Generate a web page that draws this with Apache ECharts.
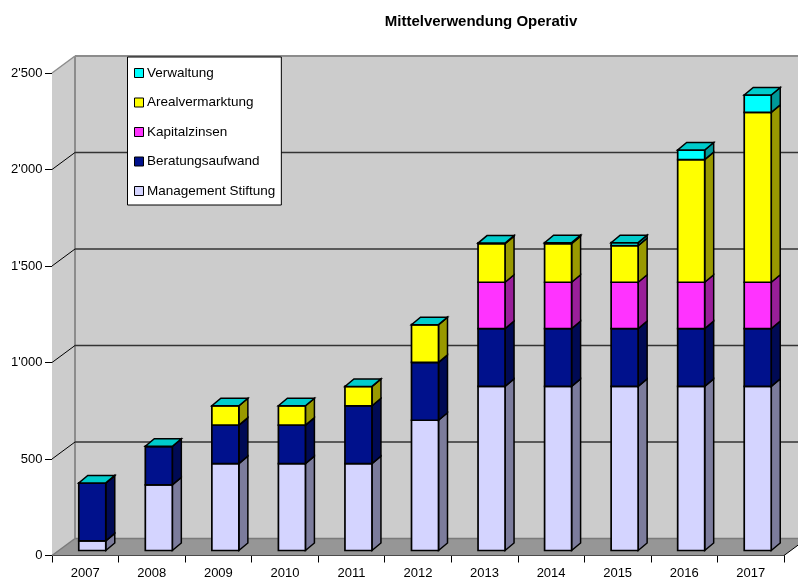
<!DOCTYPE html>
<html>
<head>
<meta charset="utf-8">
<style>html,body{margin:0;padding:0;background:#fff}#c{width:798px;height:581px}</style>
<script src="https://cdn.jsdelivr.net/npm/echarts@6/dist/echarts.min.js"></script>
</head>
<body>
<div id="c"></div>
<script>
const categories = ['2007','2008','2009','2010','2011','2012','2013','2014','2015','2016','2017'];
const management = [50,340,450,450,450,675,850,850,850,850,850];
const beratung   = [300,200,200,200,300,300,300,300,300,300,300];
const kapital    = [0,0,0,0,0,0,240,240,240,240,240];
const areal      = [0,0,100,100,100,195,200,200,190,635,880];
const verwaltung = [0,0,0,0,0,0,3,5,15,50,90];
const yTicks = [0,500,1000,1500,2000];
const yTickLabels = {0:'0',500:'500',1000:"1'000",1500:"1'500",2000:"2'000",2500:"2'500"};

const seriesDefs = [
  {name:'Management Stiftung', values:management, front:'#d4d4ff', side:'#7c7c9c', top:'#a8a8cc'},
  {name:'Beratungsaufwand',    values:beratung,   front:'#00118c', side:'#000a54', top:'#000d70'},
  {name:'Kapitalzinsen',       values:kapital,    front:'#ff33ff', side:'#991f99', top:'#cc29cc'},
  {name:'Arealvermarktung',    values:areal,      front:'#ffff00', side:'#999900', top:'#cccc00'},
  {name:'Verwaltung',          values:verwaltung, front:'#00ffff', side:'#009999', top:'#00cccc'}
];

const DX = 23, DY = -17;
const BAR_L = -6.5, BAR_W = 27;
const BAR_DX = 9, BAR_DY = -7.5, BAR_SHIFT = -5;

function poly(points, fill, stroke, lw) {
  return {type:'polygon', shape:{points}, style:{fill, stroke:stroke||null, lineWidth:lw||0}};
}
function line(x1,y1,x2,y2,stroke,lw){
  return {type:'line', shape:{x1,y1,x2,y2}, style:{stroke, lineWidth:lw}};
}

function renderBox(params, api) {
  const band = api.size([1,0])[0];
  const x0 = api.coord([0,0])[0] - band/2;
  const x1 = api.coord([categories.length-1,0])[0] + band/2;
  const y0 = api.coord([0,0])[1];
  const yT = api.coord([0,2500])[1];
  const kids = [
    poly([[x0,y0],[x0+DX,y0+DY],[x0+DX,yT+DY],[x0,yT]],'#cccccc'),
    poly([[x0+DX,y0+DY],[x1+DX,y0+DY],[x1+DX,yT+DY],[x0+DX,yT+DY]],'#cccccc'),
    poly([[x0,y0],[x1,y0],[x1+DX,y0+DY],[x0+DX,y0+DY]],'#969696'),
    line(x0+DX,y0+DY,x0+DX,yT+DY,'#8c8c8c',2),
    line(x0+DX,yT+DY,x1+DX,yT+DY,'#8c8c8c',2),
    line(x0,yT,x0+DX,yT+DY,'#8c8c8c',1.5),
    line(x0+DX,y0+DY,x1+DX,y0+DY,'#7a7a7a',1.5),
    line(x0,y0,x0+DX,y0+DY,'#7a7a7a',1.5),
    line(x1,y0,x1+DX,y0+DY,'#000',1)
  ];
  return {type:'group', children:kids};
}
function renderGrid(params, api) {
  const band = api.size([1,0])[0];
  const x0 = api.coord([0,0])[0] - band/2;
  const x1 = api.coord([categories.length-1,0])[0] + band/2;
  const y = api.coord([0,api.value(1)])[1];
  return {type:'group', children:[
    line(x0,y,x0+DX,y+DY,'#000',1),
    line(x0+DX,y+DY,x1+DX,y+DY,'#333',1.5)
  ]};
}
function makeBar(def, isTop) {
  return function(params, api){
    const c = api.coord([api.value(0), api.value(1)]);
    const t = api.coord([api.value(0), api.value(2)]);
    const l = c[0]+BAR_L, r = l+BAR_W, b = c[1]+BAR_SHIFT, u = t[1]+BAR_SHIFT;
    const kids = [
      poly([[r,b],[r+BAR_DX,b+BAR_DY],[r+BAR_DX,u+BAR_DY],[r,u]],def.side,'#000',1.5),
      poly([[l,b],[r,b],[r,u],[l,u]],def.front,'#000',1.7)
    ];
    if(isTop) kids.push(poly([[l,u],[r,u],[r+BAR_DX,u+BAR_DY],[l+BAR_DX,u+BAR_DY]],def.top,'#000',1.5));
    return {type:'group', children:kids};
  };
}

const totals = categories.map(()=>0);
const barSeries = seriesDefs.map((d,si)=>{
  const rows = d.values.map((v,i)=>{ const r=[i,totals[i],totals[i]+v]; totals[i]+=v; return r; });
  return {name:d.name, type:'custom', renderItem:makeBar(d, si===seriesDefs.length-1),
    data:rows, encode:{x:0,y:[1,2]}, itemStyle:{color:d.front}, z:5, silent:true, animation:false};
});

const chart = echarts.init(document.getElementById('c'), null, {renderer:'canvas'});
chart.setOption({
  animation:false,
  backgroundColor:'#fff',
  textStyle:{fontFamily:'"Liberation Sans",Arial,sans-serif'},
  title:{text:'Mittelverwendung Operativ', left:476, top:9, textAlign:'center',
    textStyle:{fontFamily:'"Liberation Sans",Arial,sans-serif',fontSize:15,fontWeight:'bold',color:'#000'}},
  legend:{
    orient:'vertical', left:127.5, top:57, padding:[9,6,7,6.5], itemGap:15.5,
    itemWidth:9, itemHeight:9, icon:'rect', selectedMode:false,
    data:seriesDefs.map(d=>d.name).reverse(),
    backgroundColor:'#fff', borderColor:'#000', borderWidth:1, borderRadius:0,
    itemStyle:{borderColor:'#000',borderWidth:1},
    textStyle:{fontFamily:'"Liberation Sans",Arial,sans-serif',fontSize:13.5,color:'#000',padding:[0,0,0,-1.5]}
  },
  grid:{left:52, right:14, top:73, bottom:25.5, containLabel:false},
  xAxis:{type:'category', data:categories, boundaryGap:true,
    axisLine:{lineStyle:{color:'#000',width:1}},
    axisTick:{show:true,length:7,alignWithLabel:false,lineStyle:{color:'#000',width:1}},
    axisLabel:{color:'#000',fontSize:13,margin:11,interval:0},splitLine:{show:false}},
  yAxis:{type:'value', min:0, max:2500, interval:500,
    axisLine:{show:true,lineStyle:{color:'#000',width:1}},
    axisTick:{show:true,length:7,lineStyle:{color:'#000',width:1}},
    axisLabel:{color:'#000',fontSize:13,margin:9.5,formatter:v=>yTickLabels[v]},splitLine:{show:false}},
  series:[
    {name:'box',type:'custom',renderItem:renderBox,data:[[0,0]],encode:{x:0,y:1},z:1,silent:true},
    {name:'grid',type:'custom',renderItem:renderGrid,data:yTicks.slice(1).map(v=>[0,v]),encode:{x:0,y:1},z:2,silent:true}
  ].concat(barSeries)
});
</script>
</body>
</html>
